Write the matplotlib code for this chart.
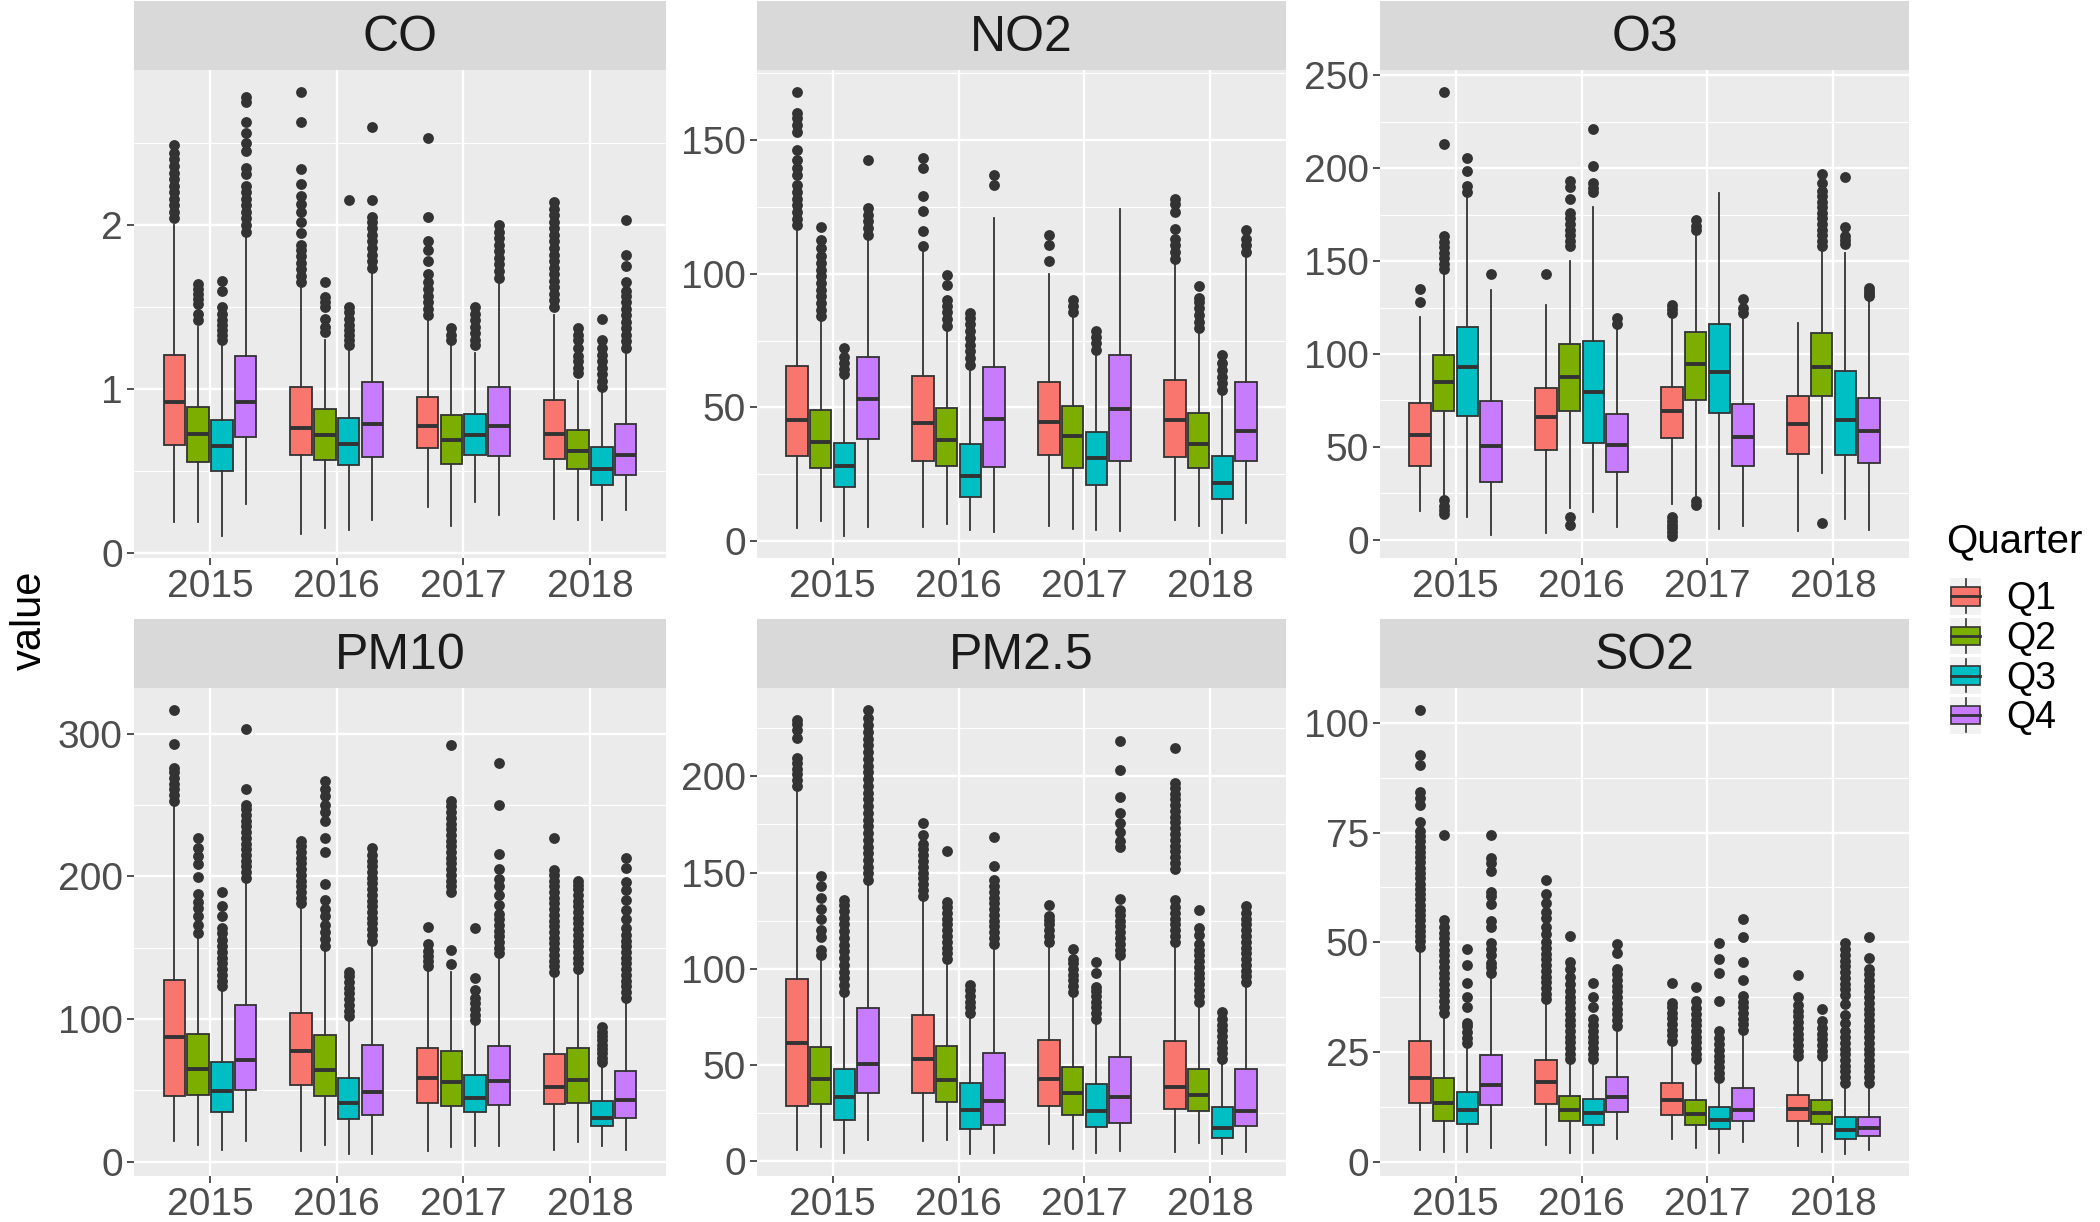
import matplotlib

matplotlib.use("Agg")
import matplotlib.pyplot as plt
from matplotlib.legend_handler import HandlerBase
from matplotlib.lines import Line2D
from matplotlib.patches import Patch, Rectangle
from matplotlib.ticker import FixedLocator, MultipleLocator

plt.rcParams["font.family"] = ["Liberation Sans", "DejaVu Sans"]

years = ["2015", "2016", "2017", "2018"]
quarters = ["Q1", "Q2", "Q3", "Q4"]
colors = ["#F8766D", "#7CAE00", "#00BFC4", "#C77CFF"]

# every stat list: 16 boxes, year by year, Q1..Q4 inside each year
co_low = [0.19, 0.19, 0.105, 0.30, 0.117, 0.152, 0.14, 0.2, 0.28, 0.164, 0.31, 0.234, 0.21, 0.2, 0.2, 0.264]
co_q1 = [0.66, 0.555, 0.50, 0.71, 0.60, 0.568, 0.538, 0.585, 0.643, 0.545, 0.596, 0.59, 0.573, 0.515, 0.414, 0.475]
co_med = [0.92, 0.725, 0.65, 0.92, 0.765, 0.718, 0.667, 0.784, 0.772, 0.69, 0.718, 0.772, 0.725, 0.62, 0.515, 0.596]
co_q3 = [1.21, 0.89, 0.81, 1.2, 1.01, 0.877, 0.823, 1.04, 0.954, 0.842, 0.847, 1.013, 0.936, 0.749, 0.648, 0.784]
co_high = [2.0, 1.38, 1.27, 1.93, 1.63, 1.3, 1.23, 1.72, 1.42, 1.28, 1.22, 1.65, 1.45, 1.05, 0.98, 1.22]
co_out = [
    [2.04, 2.08, 2.12, 2.16, 2.2, 2.24, 2.28, 2.32, 2.36, 2.4, 2.44, 2.49],
    [1.42, 1.46, 1.52, 1.55, 1.58, 1.61, 1.64],
    [1.3, 1.33, 1.36, 1.39, 1.42, 1.46, 1.5, 1.6, 1.66],
    [1.96, 2.0, 2.04, 2.08, 2.12, 2.16, 2.2, 2.24, 2.31, 2.35, 2.45, 2.5, 2.56, 2.63, 2.75, 2.78],
    [1.65, 1.69, 1.73, 1.77, 1.81, 1.85, 1.88, 1.95, 2.02, 2.08, 2.13, 2.18, 2.25, 2.34, 2.63, 2.81],
    [1.35, 1.38, 1.43, 1.5, 1.53, 1.56, 1.65],
    [1.27, 1.3, 1.33, 1.36, 1.39, 1.43, 1.47, 1.5, 2.15],
    [1.74, 1.78, 1.82, 1.86, 1.9, 1.94, 1.98, 2.02, 2.05, 2.15, 2.6],
    [1.45, 1.49, 1.53, 1.57, 1.61, 1.65, 1.7, 1.78, 1.85, 1.9, 2.05, 2.53],
    [1.3, 1.33, 1.37],
    [1.27, 1.3, 1.34, 1.38, 1.42, 1.46, 1.5],
    [1.68, 1.72, 1.76, 1.8, 1.84, 1.88, 1.92, 1.96, 2.0],
    [1.5, 1.54, 1.58, 1.62, 1.66, 1.7, 1.74, 1.78, 1.82, 1.86, 1.9, 1.94, 1.98, 2.02, 2.06, 2.1, 2.14],
    [1.1, 1.13, 1.17, 1.2, 1.25, 1.3, 1.33, 1.37],
    [1.01, 1.05, 1.09, 1.13, 1.17, 1.21, 1.25, 1.3, 1.43],
    [1.25, 1.29, 1.33, 1.37, 1.41, 1.45, 1.49, 1.53, 1.57, 1.6, 1.65, 1.75, 1.82, 2.03],
]

no2_low = [5, 7.6, 2.1, 5.3, 5.3, 6.4, 4.3, 3.6, 5.7, 4.6, 4.3, 3.9, 7.9, 5.7, 3.3, 6.7]
no2_q1 = [31.8, 27.6, 20.5, 38.4, 30.1, 28.3, 16.7, 27.9, 32.2, 27.5, 21, 30.1, 31.5, 27.6, 15.7, 30.1]
no2_med = [45.5, 37.2, 28.2, 53.2, 44.1, 37.9, 24.6, 45.8, 44.7, 39.4, 31.1, 49.4, 45.4, 36.5, 21.9, 41.1]
no2_q3 = [65.5, 49.1, 36.8, 68.7, 61.8, 49.7, 36.4, 65.1, 59.4, 50.4, 40.8, 69.7, 60.1, 47.9, 31.8, 59.4]
no2_high = [117, 83, 60.8, 113, 108.8, 79.4, 64.4, 120.7, 99.8, 83.7, 69.4, 124.1, 103.8, 78, 55.1, 106.6]
no2_out = [
    [118, 120.5, 123, 125.5, 128, 130.5, 133, 136.7, 139.5, 142.4, 146, 153, 155.5, 158, 160, 167.7],
    [84, 86.5, 89, 91.5, 94, 96.5, 99, 101.5, 104, 106.5, 109.5, 112.5, 117.4],
    [62.5, 64.5, 66.5, 69, 72.3],
    [114.5, 117, 119.5, 122, 124.5, 142.4],
    [110.2, 116, 123.4, 128.8, 139.5, 143],
    [80.5, 83, 85.5, 88, 90.2, 95.9, 99.5],
    [66, 68.5, 71, 73.5, 76, 78.5, 81, 83.5, 85.2],
    [133.1, 136.7],
    [104.8, 110.5, 114.5],
    [85.5, 88, 90.2],
    [71.5, 74, 76.5, 78.7],
    [],
    [105.5, 108, 110.5, 113, 116.6, 123, 125.9, 128],
    [79.5, 82, 84.5, 87, 89.5, 90.9, 95.5],
    [56.5, 59, 61.5, 64, 66.5, 69.7],
    [108, 110.5, 113, 116.4],
]

o3_low = [15.5, 24, 12, 2.7, 3.7, 17, 15, 6.8, 19, 23.3, 5.8, 7.2, 4.7, 36, 10.9, 5.2]
o3_q1 = [39.4, 69, 66.6, 31.1, 48.4, 69.3, 52.1, 36.3, 54.6, 75.2, 68.2, 39.4, 46, 77.5, 45.5, 41.4]
o3_med = [56.3, 85.1, 93, 50.5, 66.2, 87.6, 79.6, 51.1, 69, 94.4, 90.3, 55.2, 62.4, 93, 64.5, 58.3]
o3_q3 = [73.4, 99.5, 114.4, 74.8, 81.4, 105.1, 107.2, 67.6, 82.4, 111.7, 116, 73.2, 77.3, 111.3, 90.7, 76.5]
o3_high = [119.7, 143.9, 184.5, 134.6, 126.3, 150, 178.9, 114.4, 121, 165.5, 186.5, 120.2, 116.4, 155.2, 154.2, 130.5]
o3_out = [
    [127.8, 135],
    [14, 16, 18.1, 21.2, 145.5, 148.5, 151.5, 154.5, 157.5, 160.5, 163.5, 213, 241],
    [187, 190.6, 198.5, 205.3],
    [142.8],
    [143.3],
    [7.8, 12, 158, 161, 164, 167, 170, 173, 176, 183.5, 190, 193.3],
    [187, 189.5, 192, 201, 221],
    [116, 119.1],
    [2, 4, 6, 8, 10, 12, 122, 124, 126.3],
    [18.5, 20.5, 166.5, 169, 172],
    [],
    [122, 124.5, 129.8],
    [],
    [8.7, 158, 161, 164, 167, 170, 173, 176, 179, 182, 185, 188, 192.3, 196.8],
    [159, 161.5, 163.5, 168.6, 195.4],
    [131, 132.5, 134, 135.5],
]

pm10_low = [14.8, 12, 8.4, 14.8, 7.8, 12, 5.6, 5.6, 7.8, 10.6, 11.2, 11.2, 8.4, 14.2, 11.2, 8.4]
pm10_q1 = [46.3, 46.8, 35.1, 50.5, 53.8, 46, 30.1, 32.9, 41.3, 39.3, 35.1, 39.9, 40.7, 41.3, 25.1, 30.7]
pm10_med = [87.3, 65, 49.6, 71.1, 77.5, 64.1, 41.3, 49.1, 58.5, 56, 44.6, 56.6, 52.4, 57.4, 30.7, 43.2]
pm10_q3 = [127.7, 89.5, 70, 109.6, 104.5, 88.7, 58.8, 81.7, 79.5, 77.5, 60.8, 80.8, 75.5, 79.5, 42.7, 63.6]
pm10_high = [249, 157, 120.7, 196, 177.9, 148.6, 99.8, 152.8, 134.7, 133.3, 97, 144.4, 130.5, 133.3, 66.9, 112.4]
pm10_out = [
    [253, 257, 261, 265, 269, 273, 276, 292.7, 316.4],
    [160.5, 166, 172.3, 177.9, 182, 187.6, 199.6, 208.5, 214, 219.7, 226.6],
    [123, 127, 131, 135, 139, 143, 147, 151, 155.6, 160, 164, 172.3, 179.3, 189],
    [199, 203, 207, 211, 215, 219, 223, 227, 231, 235, 239, 243, 247, 250, 261.5, 303],
    [181, 185, 189, 193, 197, 201, 205, 209, 213, 217, 221, 225],
    [151, 156, 161, 166, 172, 177, 183.4, 194.6, 216.9, 226.6, 239, 245, 250, 256, 261, 267],
    [102, 106, 110, 114, 118, 122, 126, 130, 133],
    [155, 159, 163, 167, 171, 175, 179, 183, 187, 191, 195, 199, 203, 207, 211, 215, 220],
    [137.5, 141, 144.5, 148, 152.8, 164.5],
    [138.8, 148.6, 189, 193, 197, 201, 205, 209, 213, 217, 221, 225, 229, 233, 237, 241, 245, 249, 253, 292.2],
    [99, 103, 107, 111, 115, 120.7, 129, 164],
    [146, 150, 154, 158, 162, 166, 170, 173.7, 180, 186.8, 193, 198, 205, 215.5, 250.3, 279.6],
    [133, 137, 141, 145, 149, 153, 157, 161, 165, 169, 173, 177, 181, 185, 189, 193, 197, 201, 204.3, 227.2],
    [135, 139, 143, 147, 151, 155, 159, 163, 167, 171, 175, 179, 183, 187, 191, 194, 196.8],
    [70, 73, 76, 79, 82, 85, 88, 91, 94.2],
    [115, 119, 123, 127, 131, 135, 139, 143, 147, 151, 155, 159, 163.8, 170, 176.5, 183.4, 190.4, 196, 205.8, 212.7],
]

pm25_low = [5.9, 7.2, 4.5, 11.3, 10.7, 11.3, 3.9, 4.1, 9.2, 6.6, 4.5, 5.5, 4.9, 9.6, 3.9, 5.1]
pm25_q1 = [28.5, 29.7, 21.5, 35.7, 35.3, 30.8, 16.8, 18.9, 28.7, 24, 17.8, 19.9, 27.1, 26.1, 12.1, 18.3]
pm25_med = [61.5, 42.9, 33.6, 50.3, 53.1, 42, 26.5, 31.2, 42.9, 35.3, 26.1, 33.6, 38.4, 34.7, 17.2, 26.1]
pm25_q3 = [94.8, 59.3, 48, 79.4, 75.9, 59.9, 40.8, 56.4, 63, 49.2, 40, 54.4, 62.6, 48.2, 28.1, 48.2]
pm25_high = [192.2, 104, 86.6, 144, 136.8, 104, 75.3, 111.2, 112.2, 86.6, 72.8, 105, 112.2, 81.4, 51.7, 91.7]
pm25_out = [
    [195, 198, 201, 204, 207, 209.6, 220, 224, 227, 229],
    [107, 110, 116.3, 120, 126, 131, 137, 143, 148],
    [88, 91.5, 95, 98.5, 102, 105.5, 109, 112.5, 116, 119.5, 123, 126.5, 130, 133, 135.8],
    [146, 149.5, 153, 156.5, 160, 163.5, 167, 170.5, 174, 177.5, 181, 184.5, 188, 191.5, 195, 198.5,
     202, 205.5, 209, 212.5, 216, 219.5, 223, 226.5, 230, 234.3],
    [138, 141, 144, 147, 150, 153, 156, 159, 162, 165, 169.6, 175.8],
    [105, 108, 111, 114, 117, 120, 123, 126, 129, 132, 134.8, 161],
    [77, 80, 83, 86, 89, 91.7],
    [113, 116, 119, 122, 125, 128, 131, 134, 137, 140, 143, 146, 153.2, 168.6],
    [114, 117, 120, 123, 125.5, 127.6, 133.1],
    [88, 91, 94, 97, 100, 103, 105, 110.2],
    [74, 77, 80, 83, 86, 88.5, 90.7, 97.8, 103.6],
    [107, 110, 113, 116, 119, 122, 125, 128, 130.7, 136.4, 163, 166.5, 171, 175.5, 181, 189, 203, 218.5],
    [114, 117, 120, 123, 126, 129, 132, 135.8, 151.6, 155, 158, 161, 164, 167, 170, 173, 176, 179,
     182, 185, 188, 191, 194, 196.3, 214.8],
    [83, 86, 89, 92, 95, 98, 101, 104, 107, 110, 113, 117.3, 121.4, 130.3],
    [53, 56, 59, 62, 65, 68, 71, 74, 77.3],
    [93, 96, 99, 102, 105, 108, 111, 114, 117, 120, 123, 126, 129, 132.7],
]

so2_low = [2.7, 2.3, 2.3, 3.2, 3.8, 2.1, 2, 5.2, 5.2, 3.2, 2, 4.5, 3.6, 2.3, 1.8, 2.7]
so2_q1 = [13.4, 9.2, 8.6, 12.9, 13.1, 9.2, 8.3, 11.3, 10.7, 8.3, 7.4, 9.2, 9.2, 8.6, 5.2, 5.9]
so2_med = [19, 13.4, 11.8, 17.4, 18.1, 11.8, 11, 14.8, 14, 10.9, 9.5, 11.8, 11.9, 11, 7.2, 7.7]
so2_q3 = [27.6, 19, 15.8, 24.4, 23.1, 14.9, 14.3, 19.2, 17.9, 14, 12.4, 16.7, 15.2, 14, 10.1, 10.1]
so2_high = [48.4, 33.5, 26.2, 42.1, 36.2, 22.6, 22.6, 30.3, 26.7, 22.6, 18.1, 29.4, 23.5, 23.1, 17.6, 17.6]
so2_out = [
    [49, 50.2, 51.4, 52.6, 53.8, 55, 56.2, 57.4, 58.6, 59.8, 61, 62.2, 63.4, 64.6, 65.8, 67, 68.2, 69.4,
     70.6, 71.8, 73, 74.2, 75.4, 77.4, 81.4, 82.8, 84.2, 90.5, 92.8, 102.9],
    [34, 35.3, 36.6, 37.9, 39.2, 40.5, 41.8, 43.1, 44.4, 45.7, 47, 48.3, 49.6, 50.9, 52.2, 53.5, 55, 74.4],
    [27, 28.3, 29.6, 31, 31.7, 35.3, 37.5, 40.7, 44.8, 48.4],
    [43, 44.3, 45.2, 47, 48.4, 49.8, 53.4, 54.8, 58.8, 60.5, 61.5, 66.2, 68, 69.2, 74.4],
    [37, 38.3, 39.6, 40.9, 42.2, 43.5, 44.8, 46.1, 47.4, 48.7, 50, 52, 53.6, 55.5, 57, 59, 61, 64.3],
    [23.3, 24.6, 25.9, 27.2, 28.5, 29.8, 31.1, 32.4, 33.7, 35, 36.3, 37.6, 38.9, 40.5, 42, 44, 45.4, 51.5],
    [23.3, 24.6, 25.9, 27.2, 28.5, 29.8, 31.1, 32.6, 35.3, 37.5, 40.7],
    [31, 32.3, 33.6, 34.9, 36.2, 37.5, 38.8, 40.1, 41.4, 42.7, 44, 47.5, 49.6],
    [27.5, 28.8, 30.1, 31.4, 32.7, 34, 35.3, 36.2, 40.7],
    [23.3, 24.6, 25.9, 27.2, 28.5, 29.8, 31.1, 32.4, 33.7, 35, 36.7, 39.8],
    [19, 20.3, 21.6, 22.9, 24.2, 25.5, 26.8, 28.1, 29.9, 36.7, 43, 46.2, 49.8],
    [30, 31.3, 32.6, 33.9, 35.2, 36.5, 37.7, 41.5, 45.5, 51.1, 55.2],
    [24, 25.3, 26.6, 27.9, 29.2, 30.5, 31.8, 33.1, 34.4, 35.7, 37.6, 42.5],
    [24, 25.3, 26.6, 27.9, 29.2, 30.5, 32, 34.8],
    [18, 19.3, 20.6, 21.9, 23.2, 24.5, 25.8, 27.1, 28.4, 29.9, 31.5, 33.5, 36, 38, 39.3, 40.6, 41.9,
     43.2, 44.5, 45.8, 47.1, 48.4, 49.8],
    [18, 19.3, 20.6, 21.9, 23.2, 24.5, 25.8, 27.1, 28.4, 29.7, 31, 32.3, 33.6, 34.9, 36.2, 37.5, 38.8,
     40.1, 41.4, 42.7, 44, 46.5, 51.1],
]

panels = [
    ("CO", co_low, co_q1, co_med, co_q3, co_high, co_out, 1),
    ("NO2", no2_low, no2_q1, no2_med, no2_q3, no2_high, no2_out, 50),
    ("O3", o3_low, o3_q1, o3_med, o3_q3, o3_high, o3_out, 50),
    ("PM10", pm10_low, pm10_q1, pm10_med, pm10_q3, pm10_high, pm10_out, 100),
    ("PM2.5", pm25_low, pm25_q1, pm25_med, pm25_q3, pm25_high, pm25_out, 50),
    ("SO2", so2_low, so2_q1, so2_med, so2_q3, so2_high, so2_out, 25),
]

W, H = 2100, 1222
EDGE = "#333333"
col_px = [(134, 666), (757, 1286), (1380, 1909)]
row_px = [(70, 558), (688, 1176)]  # panel top, bottom
strip_h = 69


def frac(x0, y0, x1, y1):
    return [x0 / W, 1 - y1 / H, (x1 - x0) / W, (y1 - y0) / H]


fig = plt.figure(figsize=(W / 100, H / 100), dpi=100)

for i, (name, low, q1, med, q3, high, out, step) in enumerate(panels):
    cx0, cx1 = col_px[i % 3]
    ry0, ry1 = row_px[i // 3]
    ax = fig.add_axes(frac(cx0, ry0, cx1, ry1))
    strip = fig.add_axes(frac(cx0, ry0 - strip_h, cx1, ry0))

    stats = []
    positions = []
    for k in range(16):
        stats.append(dict(med=med[k], q1=q1[k], q3=q3[k], whislo=low[k], whishi=high[k], fliers=out[k]))
        positions.append(k // 4 + 1 + (k % 4 - 1.5) * 0.1875)

    bp = ax.bxp(stats, positions=positions, widths=0.17, patch_artist=True, showcaps=False,
                manage_ticks=False,
                boxprops=dict(edgecolor=EDGE, linewidth=1.3),
                whiskerprops=dict(color=EDGE, linewidth=1.3),
                medianprops=dict(color=EDGE, linewidth=2.8, solid_capstyle="butt"),
                flierprops=dict(marker="o", markerfacecolor=EDGE, markeredgecolor="none", markersize=7.8))
    for k, box in enumerate(bp["boxes"]):
        box.set_facecolor(colors[k % 4])

    # ggplot-style 5% expansion of the data range
    values = low + high + [v for o in out for v in o]
    vmin, vmax = min(values), max(values)
    pad = 0.05 * (vmax - vmin)
    ax.set_ylim(vmin - pad, vmax + pad)
    ax.set_xlim(0.4, 4.6)

    ax.set_facecolor("#EBEBEB")
    ax.yaxis.set_major_locator(MultipleLocator(step))
    ax.yaxis.set_minor_locator(MultipleLocator(step / 2))
    ax.xaxis.set_major_locator(FixedLocator([1, 2, 3, 4]))
    ax.set_xticklabels(years)
    ax.grid(which="major", color="white", linewidth=1.7)
    ax.grid(which="minor", axis="y", color="white", linewidth=0.8)
    ax.set_axisbelow(True)
    for sp in ax.spines.values():
        sp.set_visible(False)
    ax.tick_params(which="major", length=5, width=1.2, color=EDGE, labelsize=28,
                   labelcolor="#4D4D4D", pad=3)
    ax.tick_params(which="minor", length=0)

    strip.set_facecolor("#D9D9D9")
    strip.set_xticks([])
    strip.set_yticks([])
    for sp in strip.spines.values():
        sp.set_visible(False)
    strip.text(0.5, 0.46, name, ha="center", va="center", fontsize=36, color="#1A1A1A",
               transform=strip.transAxes)

fig.text(30 / W, 1 - 620 / H, "value", rotation=90, ha="center", va="center", fontsize=30,
         color="black")


class BoxKey(HandlerBase):
    def create_artists(self, legend, orig_handle, xdescent, ydescent, width, height, fontsize, trans):
        x0, y0 = -xdescent, -ydescent
        bg = Rectangle((x0, y0 - 0.1 * height), width, 1.2 * height, facecolor="#F2F2F2",
                       edgecolor="none", transform=trans)
        whisker = Line2D([x0 + width / 2] * 2, [y0 - 0.05 * height, y0 + 1.05 * height], color=EDGE,
                         lw=1.2, transform=trans)
        box = Rectangle((x0 + 0.03 * width, y0 + 0.2 * height), 0.94 * width, 0.6 * height,
                        facecolor=orig_handle.get_facecolor(), edgecolor=EDGE, lw=1.2, transform=trans)
        median = Line2D([x0 + 0.03 * width, x0 + 0.97 * width], [y0 + height / 2] * 2, color=EDGE,
                        lw=2.0, transform=trans)
        return [bg, whisker, box, median]


fig.text(1946 / W, 1 - 541 / H, "Quarter", ha="left", va="center", fontsize=29, color="black")
handles = [Patch(facecolor=c) for c in colors]
leg = fig.legend(handles, quarters, loc="upper left",
                 bbox_to_anchor=(1950 / W, 1 - 581 / H), frameon=False, fontsize=27,
                 handler_map={Patch: BoxKey()}, handlelength=0.83,
                 handleheight=0.88, labelspacing=0.09, handletextpad=0.68, borderpad=0,
                 borderaxespad=0)

fig.savefig("out.png", dpi=100)
plt.close(fig)
